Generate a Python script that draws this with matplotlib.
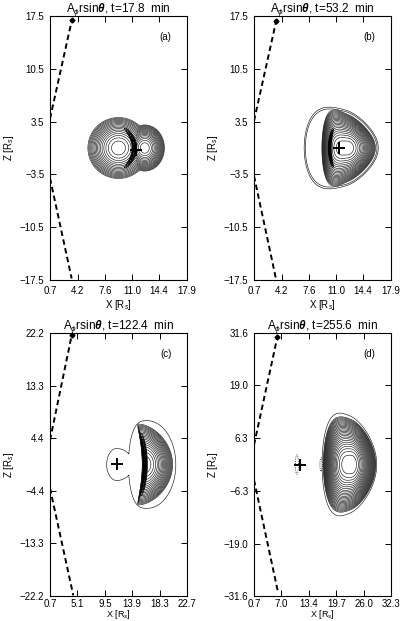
import numpy as np
import matplotlib
matplotlib.use('Agg')
import matplotlib.pyplot as plt

plt.rcParams['font.family'] = ['Liberation Sans', 'DejaVu Sans']
plt.rcParams['mathtext.fontset'] = 'custom'
plt.rcParams['mathtext.rm'] = 'Liberation Sans'
plt.rcParams['mathtext.it'] = 'Liberation Sans:italic'
plt.rcParams['mathtext.bf'] = 'Liberation Sans:bold'
plt.rcParams['mathtext.bfit'] = 'Liberation Sans:italic:bold'

# ---------------- data ----------------
panel_labels = ['(a)', '(b)', '(c)', '(d)']
times_min = [17.8, 53.2, 122.4, 255.6]

x_ticks_a = [0.7, 4.2, 7.6, 11.0, 14.4, 17.9]
z_ticks_a = [-17.5, -10.5, -3.5, 3.5, 10.5, 17.5]
x_ticks_b = [0.7, 4.2, 7.6, 11.0, 14.4, 17.9]
z_ticks_b = [-17.5, -10.5, -3.5, 3.5, 10.5, 17.5]
x_ticks_c = [0.7, 5.1, 9.5, 13.9, 18.3, 22.7]
z_ticks_c = [-22.2, -13.3, -4.4, 4.4, 13.3, 22.2]
x_ticks_d = [0.7, 7.0, 13.4, 19.7, 26.0, 32.3]
z_ticks_d = [-31.6, -19.0, -6.3, 6.3, 19.0, 31.6]

# dashed boundary lines (start, end)
upper_edge_x = [[0.7, 3.45], [0.7, 3.5], [0.7, 4.2], [0.7, 6.1]]
upper_edge_z = [[3.9, 17.0], [3.6, 16.9], [4.1, 21.9], [4.7, 30.7]]
lower_edge_x = [[0.7, 3.42], [0.7, 3.45], [0.7, 4.44], [0.7, 6.3]]
lower_edge_z = [[-4.0, -17.3], [-3.7, -17.3], [-4.0, -22.1], [-3.7, -31.0]]

# '+' marker positions
marker_x = [11.5, 11.4, 11.4, 11.4]
marker_z = [-0.2, 0.0, 0.1, 0.0]

# contour lobes: cx, cz, rx_left, rx_right, rz, bend, taper, left_power, peak
lobes_a = [(9.3, 0.0, 3.9, 3.9, 4.1, 0.0, 0.0, 2, 1.0),
           (12.6, 0.0, 2.5, 2.5, 3.1, 0.0, 0.0, 2, 1.0)]
lobes_b = [(12.5, 0.0, 3.3, 3.5, 4.5, 0.0, 0.35, 4, 1.0)]
lobes_c = [(16.0, 0.0, 0.5, 4.5, 7.0, -0.025, 0.0, 2, 1.0)]
lobes_d = [(23.2, 0.0, 6.6, 5.7, 11.0, 0.0, 0.25, 3, 1.0),
           (21.2, 6.0, 2.8, 3.2, 3.0, 0.0, 0.0, 2, 0.68),
           (21.2, -6.0, 2.8, 3.2, 3.0, 0.0, 0.0, 2, 0.68)]
main_levels = [(0.03, 0.95, 17), (0.03, 0.96, 22), (0.05, 0.96, 20), (0.04, 0.96, 26)]

# low-level outer envelopes: same columns
halo_a = []
halo_b = [(12.3, 0.0, 5.3, 4.0, 5.0, 0.0, 0.3, 3, 1.0)]
halo_c = [(16.3, 0.0, 3.0, 4.6, 7.4, 0.0, 0.0, 3, 1.0),
          (11.4, 0.0, 1.6, 2.6, 2.7, 0.0, 0.0, 2, 1.0)]
halo_d = [(23.0, 0.0, 6.6, 6.0, 11.6, 0.0, 0.25, 3, 1.0)]
halo_levels = [[], [0.0, 0.08], [0.0], [0.0]]

# dense current-sheet arcs: x0, z0, bend, half_length, width
arcs_a = [(11.3, 0.0, -0.17, 2.8, 0.2)]
arcs_b = [(10.2, 0.0, 0.065, 2.7, 0.12)]
arcs_c = [(16.0, 0.0, -0.025, 5.5, 0.22)]
arcs_d = []

# negative (dotted) contours: cx, cz, rx, rz
neg_a = []
neg_b = []
neg_c = []
neg_d = [(10.6, 0.0, 0.35, 2.3), (16.2, 0.0, 0.3, 1.6)]

x_ticks = [x_ticks_a, x_ticks_b, x_ticks_c, x_ticks_d]
z_ticks = [z_ticks_a, z_ticks_b, z_ticks_c, z_ticks_d]
lobes = [lobes_a, lobes_b, lobes_c, lobes_d]
halos = [halo_a, halo_b, halo_c, halo_d]
arcs = [arcs_a, arcs_b, arcs_c, arcs_d]
negs = [neg_a, neg_b, neg_c, neg_d]


def lobe_field(X, Z, lobe_list):
    F = np.full(X.shape, -1.0)
    for cx, cz, rxl, rxr, rz, bend, taper, pl, peak in lobe_list:
        dz = Z - cz
        dx = X - (cx + bend * dz ** 2)
        rx = np.where(dx < 0, rxl, rxr)
        u = dx / rx
        ux = np.where(dx < 0, np.abs(u) ** pl, u ** 2)
        rze = np.maximum(rz * (1 - taper * u), 0.3)
        F = np.maximum(F, peak * (1 - ux - (dz / rze) ** 2))
    return F


def arc_field(X, Z, arc_list):
    G = np.zeros(X.shape)
    for x0, z0, bend, half, width in arc_list:
        dz = Z - z0
        d = X - (x0 + bend * dz ** 2)
        env = np.clip(1 - (dz / half) ** 2, 0, None)
        G = np.maximum(G, np.exp(-(d / width) ** 2) * env)
    return G


W, H = 402, 621
fig = plt.figure(figsize=(W / 100, H / 100), dpi=100)
positions = [(50, 16, 137, 264), (254, 16, 137, 264),
             (50, 333, 137, 263), (254, 333, 137, 263)]

for i in range(4):
    l, t, w, h = positions[i]
    ax = fig.add_axes([l / W, 1 - (t + h) / H, w / W, h / H])
    xt, zt = x_ticks[i], z_ticks[i]
    ax.set_xlim(xt[0], xt[-1])
    ax.set_ylim(zt[0], zt[-1])

    xs = np.linspace(xt[0], xt[-1], 500)
    zs = np.linspace(zt[0], zt[-1], 700)
    X, Z = np.meshgrid(xs, zs)

    F = lobe_field(X, Z, lobes[i])
    lo, hi, n = main_levels[i]
    ax.contour(X, Z, F, levels=np.linspace(lo, hi, n), colors='0.1',
               linewidths=0.45, linestyles='solid')
    if halos[i]:
        Hf = lobe_field(X, Z, halos[i])
        ax.contour(X, Z, Hf, levels=halo_levels[i], colors='0.1',
                   linewidths=0.45, linestyles='solid')
    if arcs[i]:
        G = arc_field(X, Z, arcs[i])
        ax.contour(X, Z, G, levels=np.linspace(0.1, 0.95, 7), colors='black',
                   linewidths=0.5, linestyles='solid')
    if negs[i]:
        Nf = lobe_field(X, Z, [(cx, cz, rx, rx, rz, 0, 0, 2, 1) for cx, cz, rx, rz in negs[i]])
        ax.contour(X, Z, Nf, levels=[0.0], colors='black',
                   linewidths=0.6, linestyles='dotted')

    ax.plot(upper_edge_x[i], upper_edge_z[i], color='black', lw=1.4,
            dashes=[2.8, 1.8], dash_capstyle='butt')
    ax.plot(lower_edge_x[i], lower_edge_z[i], color='black', lw=1.4,
            dashes=[2.8, 1.8], dash_capstyle='butt')
    ax.plot([upper_edge_x[i][1]], [upper_edge_z[i][1]], marker='D', ms=2.5,
            color='black', clip_on=False)
    ax.plot([marker_x[i]], [marker_z[i]], marker='+', ms=8, mew=1.4, color='black')

    bottom_row = i >= 2
    ax.set_xticks(xt)
    ax.set_yticks(zt)
    ax.set_xticklabels([f'{v:.1f}' for v in xt])
    ax.set_yticklabels([f'{v:.1f}'.replace('-', '\u2212') for v in zt])
    ax.tick_params(direction='in', top=True, right=True, length=4, width=0.7,
                   labelsize=7, pad=4)
    if bottom_row:
        ax.tick_params(axis='x', pad=2)
    for s in ax.spines.values():
        s.set_linewidth(0.8)

    ax.set_title(r'A$_\phi$rsin$\boldsymbol{\theta}$, t=' + f'{times_min[i]:.1f}  min',
                 fontsize=8.5, pad=3)
    ax.set_xlabel(r'X [R$_s$]', fontsize=6.5 if bottom_row else 7)
    ax.set_ylabel(r'Z [R$_s$]', fontsize=7)
    ax.xaxis.set_label_coords(0.5, -0.0455 if bottom_row else -0.07)
    ax.yaxis.set_label_coords(-0.245, 0.5)
    ax.text(0.845, 0.92, panel_labels[i], transform=ax.transAxes, fontsize=7,
            ha='center', va='center')

fig.savefig('out.png', dpi=100)
